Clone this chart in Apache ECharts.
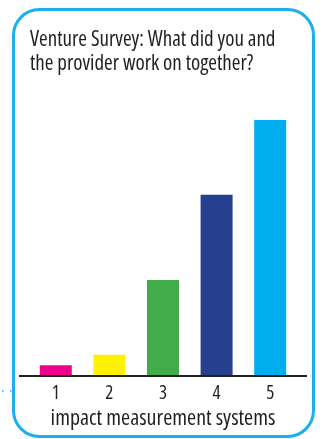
<!DOCTYPE html>
<html>
<head>
<meta charset="utf-8">
<script src="https://cdn.jsdelivr.net/npm/echarts@6/dist/echarts.min.js"></script>
<style>
  html, body { margin: 0; padding: 0; background: #ffffff; }
  #chart { width: 322px; height: 439px; }
</style>
</head>
<body>
<div id="chart"></div>
<script>
// Survey responses: number of ventures per impact-measurement rating
const categories = ['1', '2', '3', '4', '5'];
const counts = [1, 2, 9, 17, 24];
const barColors = ['#EC008C', '#FFF200', '#43AC4A', '#25408F', '#00AEEF'];

// Open Sans' condensed width, picked through the font-stretch keyword
const FONT = '"Open Sans"';
const STRETCH = 'condensed';

const chart = echarts.init(document.getElementById('chart'), null, { renderer: 'canvas' });

const gridTop = 120;
const gridBottom = 63;

chart.setOption({
  backgroundColor: '#ffffff',
  animation: false,
  title: {
    text: 'Venture Survey: What did you and\nthe provider work on together?',
    left: 30,
    top: 28,
    padding: 0,
    textStyle: {
      fontFamily: FONT,
      fontStyle: STRETCH,
      fontSize: 21,
      fontWeight: 'normal',
      lineHeight: 24,
      color: '#231F20'
    }
  },
  grid: { left: 29, right: 25, top: gridTop, bottom: gridBottom },
  xAxis: {
    type: 'category',
    data: categories,
    name: 'impact measurement systems',
    nameLocation: 'middle',
    nameGap: 31,
    nameTextStyle: { fontFamily: FONT, fontStyle: STRETCH, fontSize: 22, color: '#231F20' },
    axisLine: { show: false },
    axisTick: { show: false },
    axisLabel: { fontFamily: FONT, fontStyle: STRETCH, fontSize: 19, color: '#231F20', margin: 8 }
  },
  yAxis: {
    type: 'value',
    min: 0,
    max: 24,
    show: false
  },
  series: [{
    type: 'bar',
    barWidth: 32,
    data: counts.map((v, i) => ({ value: v, itemStyle: { color: barColors[i] } }))
  }],
  graphic: [
    // rounded frame
    {
      type: 'rect',
      shape: { x: 13.5, y: 9.5, width: 300, height: 427, r: 26 },
      style: { fill: 'none', stroke: '#1AB0EC', lineWidth: 3 },
      z: 10
    },
    // baseline under the bars
    {
      type: 'line',
      shape: { x1: 19, y1: 439 - gridBottom, x2: 307, y2: 439 - gridBottom },
      style: { stroke: '#231F20', lineWidth: 2 },
      z: 5
    },
    // dotted leader at the left edge
    {
      type: 'line',
      shape: { x1: 2, y1: 391, x2: 12, y2: 391 },
      style: { stroke: '#1AB0EC', lineWidth: 1.5, lineDash: [1.5, 6.5] },
      z: 10
    }
  ]
});
</script>
</body>
</html>
